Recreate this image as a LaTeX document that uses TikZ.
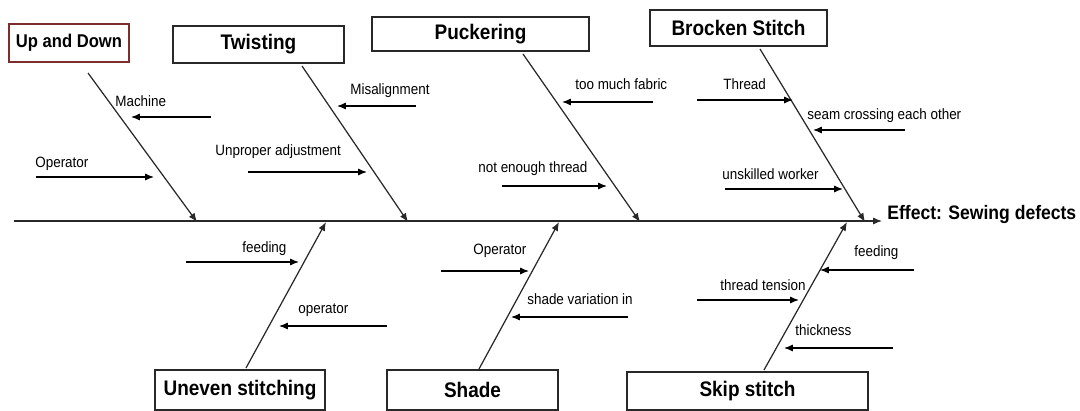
\documentclass[tikz,border=0pt]{standalone}
\usepackage{fontspec}
\setmainfont[FakeStretch=0.9]{Liberation Sans}
\usetikzlibrary{arrows.meta,calc}
\definecolor{boxred}{RGB}{125,45,45}
\definecolor{inkgray}{RGB}{40,40,40}

\tikzset{
  causebox/.style={draw=inkgray, line width=0.8pt, fill=white, inner sep=0pt,
    font=\fontsize{12}{14}\selectfont\bfseries, align=center},
  bone/.style={draw=inkgray, line width=0.7pt, -{Latex[length=5pt,width=4pt]}},
  cause/.style={draw=black, line width=0.7pt, -{Latex[length=5pt,width=4pt]}},
  lbl/.style={anchor=west, inner sep=0pt, font=\fontsize{8.5}{10}\selectfont}
}

\begin{document}
\begin{tikzpicture}[x=0.02cm, y=-0.02cm]
\useasboundingbox (0,0) rectangle (1080,411);

% ================= SPINE AND EFFECT =================
\node[anchor=west, inner sep=0pt, font=\fontsize{11.1}{13}\selectfont\bfseries]
  (effect) at (887,215) {Effect: Sewing defects};
\coordinate (tail) at (14,221);
\draw[bone] (tail) -- ($(tail -| effect.west)+(-5,0)$);

% ================= TOP: UP AND DOWN =================
\node[causebox, draw=boxred, minimum width=2.4cm, minimum height=0.76cm,
  font=\fontsize{10.5}{12}\selectfont\bfseries] (updown) at (69,43) {Up and Down};
\coordinate (udA) at (88,73);
\coordinate (udB) at (197,222);
\draw[bone] (udA) -- (udB);
\node[lbl] (machine) at (115,101) {Machine};
\coordinate (machineA) at (211,117);
\coordinate (machineB) at (131,117);
\draw[cause] (machineA) -- (machineB);
\node[lbl] (operA) at (35,164) {Operator};
\coordinate (operAa) at (36,177);
\coordinate (operAb) at (154,177);
\draw[cause] (operAa) -- (operAb);

% ================= TOP: TWISTING =================
\node[causebox, minimum width=3.42cm, minimum height=0.74cm] (twist) at (258.5,44.5) {Twisting};
\coordinate (twA) at (302,66);
\coordinate (twB) at (408,222);
\draw[bone] (twA) -- (twB);
\node[lbl] (misal) at (350,91) {Misalignment};
\coordinate (misalA) at (416,106);
\coordinate (misalB) at (337,106);
\draw[cause] (misalA) -- (misalB);
\node[lbl] (unprop) at (215,152) {Unproper adjustment};
\coordinate (unpropA) at (248,172);
\coordinate (unpropB) at (367,172);
\draw[cause] (unpropA) -- (unpropB);

% ================= TOP: PUCKERING =================
\node[causebox, minimum width=4.34cm, minimum height=0.68cm] (pucker) at (480.5,34) {Puckering};
\coordinate (pkA) at (523,54);
\coordinate (pkB) at (640,222);
\draw[bone] (pkA) -- (pkB);
\node[lbl] (fabric) at (575,84) {too much fabric};
\coordinate (fabricA) at (653,102);
\coordinate (fabricB) at (562,102);
\draw[cause] (fabricA) -- (fabricB);
\node[lbl] (enough) at (478,169) {not enough thread};
\coordinate (enoughA) at (502,186);
\coordinate (enoughB) at (607,186);
\draw[cause] (enoughA) -- (enoughB);

% ================= TOP: BROCKEN STITCH =================
\node[causebox, minimum width=3.54cm, minimum height=0.72cm] (broken) at (738.5,28) {Brocken Stitch};
\coordinate (bsA) at (760,49);
\coordinate (bsB) at (865,222);
\draw[bone] (bsA) -- (bsB);
\node[lbl] (thread) at (723,84) {Thread};
\coordinate (threadA) at (697,100);
\coordinate (threadB) at (793,100);
\draw[cause] (threadA) -- (threadB);
\node[lbl] (seam) at (807,116) {seam crossing each other};
\coordinate (seamA) at (905,130);
\coordinate (seamB) at (813,130);
\draw[cause] (seamA) -- (seamB);
\node[lbl] (unskill) at (722,174) {unskilled worker};
\coordinate (unskillA) at (725,189);
\coordinate (unskillB) at (843,189);
\draw[cause] (unskillA) -- (unskillB);

% ================= BOTTOM: UNEVEN STITCHING =================
\node[causebox, minimum width=3.4cm, minimum height=0.8cm] (uneven) at (240,390) {Uneven stitching};
\coordinate (ueA) at (246,368);
\coordinate (ueB) at (326,222);
\draw[bone] (ueA) -- (ueB);
\node[lbl] (feedA) at (242,249) {feeding};
\coordinate (feedAa) at (186,262);
\coordinate (feedAb) at (299,262);
\draw[cause] (feedAa) -- (feedAb);
\node[lbl] (operB) at (298,310) {operator};
\coordinate (operBa) at (387,326);
\coordinate (operBb) at (279,326);
\draw[cause] (operBa) -- (operBb);

% ================= BOTTOM: SHADE =================
\node[causebox, minimum width=3.42cm, minimum height=0.8cm] (shade) at (472.5,390) {Shade};
\coordinate (shA) at (479,369);
\coordinate (shB) at (559,222);
\draw[bone] (shA) -- (shB);
\node[lbl] (operC) at (473,251) {Operator};
\coordinate (operCa) at (441,271);
\coordinate (operCb) at (529,271);
\draw[cause] (operCa) -- (operCb);
\node[lbl] (variation) at (527,299) {shade variation in};
\coordinate (variationA) at (628,317);
\coordinate (variationB) at (511,317);
\draw[cause] (variationA) -- (variationB);

% ================= BOTTOM: SKIP STITCH =================
\node[causebox, minimum width=4.82cm, minimum height=0.76cm] (skip) at (747.5,391) {Skip stitch};
\coordinate (skA) at (764,370);
\coordinate (skB) at (847,222);
\draw[bone] (skA) -- (skB);
\node[lbl] (feedB) at (854,253) {feeding};
\coordinate (feedBa) at (914,270);
\coordinate (feedBb) at (820,270);
\draw[cause] (feedBa) -- (feedBb);
\node[lbl] (tension) at (720,285) {thread tension};
\coordinate (tensionA) at (697,300);
\coordinate (tensionB) at (799,300);
\draw[cause] (tensionA) -- (tensionB);
\node[lbl] (thick) at (795,330) {thickness};
\coordinate (thickA) at (893,348);
\coordinate (thickB) at (784,348);
\draw[cause] (thickA) -- (thickB);

\end{tikzpicture}
\end{document}
